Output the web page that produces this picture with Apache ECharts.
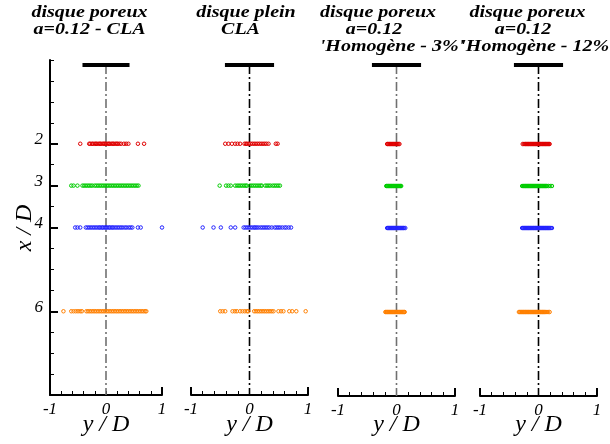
<!DOCTYPE html>
<html>
<head>
<meta charset="utf-8">
<script src="https://cdn.jsdelivr.net/npm/echarts@6/dist/echarts.min.js"></script>
<style>
html,body{margin:0;padding:0;background:#fff;}
#chart{width:610px;height:444px;}
</style>
</head>
<body>
<div id="chart"></div>
<script>
// ---- data ----
const levels = [2, 3, 4, 6];               // x/D stations
const xTickLabels = [-1, 0, 1];
const yTickLabels = [2, 3, 4, 6];
const levelColors = ['#e00000', '#00cc00', '#2222ff', '#ff8000'];

// panel 1 : disque poreux a=0.12 - CLA
const p1_x2 = [-0.46, -0.30, -0.28, -0.25, -0.23, -0.20, -0.18, -0.16, -0.13, -0.11, -0.09, -0.06, -0.04, -0.02, 0.0, 0.03, 0.05, 0.07, 0.10, 0.12, 0.14, 0.17, 0.19, 0.21, 0.24, 0.27, 0.32, 0.36, 0.40, 0.57, 0.68];
const p1_x3 = [-0.62, -0.58, -0.51, -0.42, -0.39, -0.36, -0.33, -0.30, -0.27, -0.24, -0.20, -0.17, -0.14, -0.11, -0.08, -0.05, -0.02, 0.01, 0.04, 0.07, 0.10, 0.13, 0.16, 0.19, 0.22, 0.25, 0.28, 0.31, 0.34, 0.37, 0.40, 0.43, 0.46, 0.49, 0.52, 0.55, 0.58];
const p1_x4 = [-0.55, -0.51, -0.46, -0.36, -0.33, -0.30, -0.27, -0.24, -0.21, -0.18, -0.15, -0.12, -0.10, -0.07, -0.05, -0.02, 0.0, 0.02, 0.05, 0.07, 0.10, 0.12, 0.15, 0.18, 0.21, 0.24, 0.27, 0.30, 0.34, 0.37, 0.41, 0.44, 0.47, 0.57, 0.62, 1.0];
const p1_x6 = [-0.76, -0.62, -0.58, -0.54, -0.50, -0.46, -0.43, -0.35, -0.32, -0.29, -0.26, -0.23, -0.20, -0.17, -0.14, -0.11, -0.08, -0.05, -0.02, 0.01, 0.04, 0.07, 0.10, 0.13, 0.16, 0.19, 0.22, 0.25, 0.28, 0.31, 0.34, 0.37, 0.40, 0.43, 0.46, 0.49, 0.52, 0.55, 0.58, 0.61, 0.64, 0.67, 0.70, 0.72];

// panel 2 : disque plein CLA
const p2_x2 = [-0.415, -0.36, -0.30, -0.245, -0.205, -0.16, -0.085, -0.06, -0.04, -0.01, 0.02, 0.05, 0.08, 0.11, 0.14, 0.17, 0.20, 0.23, 0.26, 0.29, 0.325, 0.45, 0.48];
const p2_x3 = [-0.51, -0.40, -0.36, -0.32, -0.245, -0.21, -0.18, -0.15, -0.12, -0.09, -0.065, -0.045, 0.01, 0.04, 0.07, 0.10, 0.13, 0.16, 0.19, 0.21, 0.27, 0.30, 0.33, 0.36, 0.40, 0.43, 0.46, 0.49, 0.52];
const p2_x4 = [-0.80, -0.615, -0.49, -0.32, -0.245, -0.10, -0.07, -0.04, -0.01, 0.02, 0.05, 0.08, 0.10, 0.125, 0.155, 0.19, 0.22, 0.25, 0.28, 0.31, 0.34, 0.38, 0.43, 0.46, 0.49, 0.52, 0.56, 0.60, 0.63, 0.67, 0.71];
const p2_x6 = [-0.50, -0.46, -0.415, -0.29, -0.25, -0.215, -0.16, -0.12, -0.08, -0.04, -0.02, 0.08, 0.11, 0.14, 0.17, 0.20, 0.23, 0.26, 0.29, 0.32, 0.35, 0.38, 0.41, 0.495, 0.54, 0.58, 0.68, 0.73, 0.80, 0.96];

// panel 3 : disque poreux a=0.12 'Homogène - 3%'
const p3_x2 = [-0.16, -0.147, -0.131, -0.118, -0.102, -0.089, -0.073, -0.058, -0.044, -0.029, -0.013, 0.002, 0.018, 0.033, 0.05];
const p3_x3 = [-0.175, -0.161, -0.146, -0.132, -0.117, -0.103, -0.088, -0.074, -0.059, -0.045, -0.03, -0.016, -0.001, 0.013, 0.028, 0.042, 0.057, 0.07, 0.08];
const p3_x4 = [-0.16, -0.145, -0.131, -0.116, -0.102, -0.087, -0.073, -0.058, -0.044, -0.029, -0.015, 0.0, 0.014, 0.029, 0.043, 0.058, 0.072, 0.087, 0.101, 0.116, 0.13, 0.15];
const p3_x6 = [-0.19, -0.176, -0.161, -0.147, -0.132, -0.118, -0.103, -0.089, -0.074, -0.06, -0.045, -0.031, -0.016, -0.002, 0.013, 0.027, 0.042, 0.056, 0.071, 0.085, 0.1, 0.114, 0.128, 0.14];

// panel 4 : disque poreux a=0.12 'Homogène - 12%'
const p4_x2 = [-0.27, -0.25, -0.232, -0.218, -0.203, -0.189, -0.174, -0.16, -0.145, -0.131, -0.116, -0.102, -0.087, -0.073, -0.058, -0.044, -0.029, -0.015, 0.0, 0.014, 0.029, 0.043, 0.058, 0.072, 0.087, 0.101, 0.116, 0.13, 0.145, 0.16, 0.175, 0.19];
const p4_x3 = [-0.28, -0.262, -0.246, -0.231, -0.217, -0.202, -0.188, -0.173, -0.159, -0.144, -0.13, -0.115, -0.101, -0.086, -0.072, -0.057, -0.043, -0.028, -0.014, 0.001, 0.015, 0.03, 0.044, 0.059, 0.073, 0.088, 0.102, 0.117, 0.131, 0.146, 0.17, 0.2, 0.23];
const p4_x4 = [-0.28, -0.265, -0.25, -0.235, -0.221, -0.206, -0.192, -0.177, -0.163, -0.148, -0.134, -0.119, -0.105, -0.09, -0.076, -0.061, -0.047, -0.032, -0.018, -0.003, 0.011, 0.026, 0.04, 0.055, 0.069, 0.084, 0.098, 0.113, 0.127, 0.142, 0.156, 0.171, 0.19, 0.21, 0.23];
const p4_x6 = [-0.335, -0.32, -0.305, -0.29, -0.276, -0.261, -0.247, -0.232, -0.218, -0.203, -0.189, -0.174, -0.16, -0.145, -0.131, -0.116, -0.102, -0.087, -0.073, -0.058, -0.044, -0.029, -0.015, 0.0, 0.014, 0.029, 0.043, 0.058, 0.072, 0.087, 0.105, 0.125, 0.145, 0.165, 0.19];

const panelData = [
  [p1_x2, p1_x3, p1_x4, p1_x6],
  [p2_x2, p2_x3, p2_x4, p2_x6],
  [p3_x2, p3_x3, p3_x4, p3_x6],
  [p4_x2, p4_x3, p4_x4, p4_x6]
];

// disk (thick bar) and axis of the disk
const diskX = [-0.42, 0.42];
const diskLevel = 0.12;
const centerLineY = [0.12, 8];

// titles of the panels
const panelTitles = [
  ['disque poreux', 'a=0.12 - CLA'],
  ['disque plein', 'CLA'],
  ['disque poreux', 'a=0.12', "'Homogène - 3%'"],
  ['disque poreux', 'a=0.12', "'Homogène - 12%'"]
];

// ---- layout ----
const grids = [
  {left: 50, top: 60, width: 112, height: 335},
  {left: 191, top: 60, width: 117, height: 335},
  {left: 338, top: 60, width: 117, height: 336},
  {left: 480, top: 60, width: 117, height: 336}
];
const centerLineColors = ['#707070', '#000000', '#707070', '#000000'];
const titlePos = [
  [[89.5, 13], [89.5, 30]],
  [[246, 13], [240.5, 30]],
  [[378, 13], [374, 30], [392, 47]],
  [[527.5, 13], [523, 30], [537.5, 47]]
];

const serif = "'Liberation Serif', 'Times New Roman', serif";

const xAxes = [];
const yAxes = [];
const series = [];
const graphics = [];

grids.forEach((g, i) => {
  // main x axis
  xAxes.push({
    type: 'value', gridIndex: i, min: -1, max: 1, interval: 0.2, position: 'bottom',
    axisLine: {show: true, onZero: false, lineStyle: {color: '#000', width: 2}},
    axisTick: {show: true, inside: true, length: 4, lineStyle: {color: '#000', width: 1}},
    axisLabel: {show: true, customValues: xTickLabels, margin: 6, color: '#000',
      fontFamily: serif, fontStyle: 'italic', fontSize: 17,
      formatter: v => String(v)},
    splitLine: {show: false}
  });
  // end ticks (longer)
  xAxes.push({
    type: 'value', gridIndex: i, min: -1, max: 1, position: 'bottom',
    axisLine: {show: false, onZero: false},
    axisTick: {show: true, inside: true, length: 8, customValues: [-1, 1], lineStyle: {color: '#000', width: 2}},
    axisLabel: {show: false},
    splitLine: {show: false}
  });
  yAxes.push({
    type: 'value', gridIndex: i, min: 0, max: 8, interval: 0.5, inverse: true, position: 'left',
    show: i === 0,
    axisLine: {show: true, onZero: false, lineStyle: {color: '#000', width: 2}},
    axisTick: {show: true, inside: true, length: 4, lineStyle: {color: '#000', width: 1}},
    axisLabel: {show: false},
    splitLine: {show: false}
  });
});
// long ticks + labels of the x/D axis
yAxes.push({
  type: 'value', gridIndex: 0, min: 0, max: 8, inverse: true, position: 'left',
  axisLine: {show: false, onZero: false},
  axisTick: {show: true, inside: true, length: 8, customValues: yTickLabels, lineStyle: {color: '#000', width: 2}},
  axisLabel: {show: true, customValues: yTickLabels, margin: 7, color: '#000',
    fontFamily: serif, fontStyle: 'italic', fontSize: 17, verticalAlign: 'bottom', lineHeight: 8,
    formatter: v => String(v)},
  splitLine: {show: false}
});

grids.forEach((g, i) => {
  // center dash-dot line
  series.push({
    type: 'line', xAxisIndex: 2 * i, yAxisIndex: i, symbol: 'none', silent: true,
    data: [[0, centerLineY[0]], [0, centerLineY[1]]],
    lineStyle: {color: centerLineColors[i], width: 1.6, type: [9, 3, 2, 3]},
    z: 1
  });
  // disk
  series.push({
    type: 'line', xAxisIndex: 2 * i, yAxisIndex: i, symbol: 'none', silent: true,
    data: [[diskX[0], diskLevel], [diskX[1], diskLevel]],
    lineStyle: {color: '#000', width: 4},
    z: 3
  });
  panelData[i].forEach((xs, k) => {
    series.push({
      type: 'scatter', xAxisIndex: 2 * i, yAxisIndex: i,
      symbol: 'circle', symbolSize: 3.5,
      itemStyle: {color: 'rgba(0,0,0,0)', borderColor: levelColors[k], borderWidth: 1, opacity: 1},
      data: xs.map(x => [x, levels[k]]),
      z: 2
    });
  });
  // titles
  panelTitles[i].forEach((t, j) => {
    graphics.push({
      type: 'text', x: titlePos[i][j][0], y: titlePos[i][j][1], scaleX: 1.25,
      style: {text: t, fill: '#000', font: "italic bold 16px " + serif,
        textAlign: 'center', textVerticalAlign: 'middle'}
    });
  });
  // axis title y/D
  graphics.push({
    type: 'text', x: g.left + g.width / 2, y: 425,
    style: {text: 'y / D', fill: '#000', font: "italic 24px " + serif,
      textAlign: 'center', textVerticalAlign: 'middle'}
  });
});
// axis title x/D
graphics.push({
  type: 'text', x: 25, y: 228, rotation: Math.PI / 2,
  style: {text: 'x / D', fill: '#000', font: "italic 24px " + serif,
    textAlign: 'center', textVerticalAlign: 'middle'}
});

const chart = echarts.init(document.getElementById('chart'), null, {renderer: 'canvas'});
chart.setOption({
  animation: false,
  backgroundColor: '#ffffff',
  grid: grids.map(g => Object.assign({containLabel: false}, g)),
  xAxis: xAxes,
  yAxis: yAxes,
  series: series,
  graphic: graphics
});
</script>
</body>
</html>
